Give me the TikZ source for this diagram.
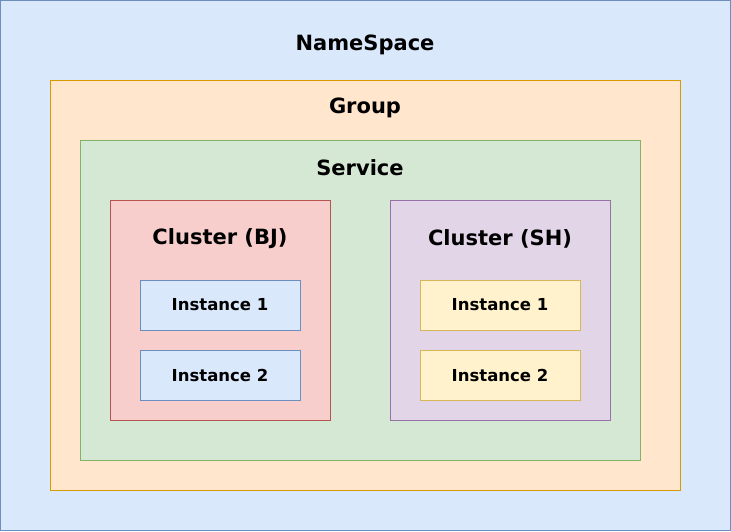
\documentclass[tikz,border=0pt]{standalone}
\usepackage{fontspec}
\setmainfont{DejaVu Sans}
\usetikzlibrary{positioning}
\definecolor{nsfill}{HTML}{DAE8FC}
\definecolor{nsline}{HTML}{6C8EBF}
\definecolor{grpfill}{HTML}{FFE6CC}
\definecolor{grpline}{HTML}{D79B00}
\definecolor{svcfill}{HTML}{D5E8D4}
\definecolor{svcline}{HTML}{82B366}
\definecolor{bjfill}{HTML}{F8CECC}
\definecolor{bjline}{HTML}{B85450}
\definecolor{shfill}{HTML}{E1D5E7}
\definecolor{shline}{HTML}{9673A6}
\definecolor{insfill}{HTML}{FFF2CC}
\definecolor{insline}{HTML}{D6B656}
\tikzset{
  box/.style={draw,line width=1pt,inner sep=0pt},
  title/.style={font=\fontsize{21}{25}\selectfont\bfseries},
  inst/.style={box,minimum width=160pt,minimum height=50pt,font=\fontsize{16.5}{19}\selectfont\bfseries}
}

\begin{document}
\begin{tikzpicture}[x=1pt,y=-1pt]
    \useasboundingbox (0,0) rectangle (731,531);

    % NameSpace
    \node[box,fill=nsfill,draw=nsline,minimum width=730pt,minimum height=530pt] (ns) at (365.5,265.5) {};
    \node[title] (nstitle) at (365,45) {NameSpace};

    % Group
    \node[box,fill=grpfill,draw=grpline,minimum width=630pt,minimum height=410pt] (grp) at (365,285) {};
    \node[title] (grptitle) at (365,108) {Group};

    % Service
    \node[box,fill=svcfill,draw=svcline,minimum width=560pt,minimum height=320pt] (svc) at (360,300) {};
    \node[title] (svctitle) at (360,168) {Service};

    % Cluster (BJ)
    \node[box,fill=bjfill,draw=bjline,minimum width=220pt,minimum height=220pt] (bj) at (220,310) {};
    \node[title] (bjtitle) at (220,239) {Cluster (BJ)};
    \node[inst,fill=nsfill,draw=nsline] (bjone) at (220,305) {Instance 1};
    \node[inst,fill=nsfill,draw=nsline] (bjtwo) at (220,375) {Instance 2};

    % Cluster (SH)
    \node[box,fill=shfill,draw=shline,minimum width=220pt,minimum height=220pt] (sh) at (500,310) {};
    \node[title] (shtitle) at (500,239) {Cluster (SH)};
    \node[inst,fill=insfill,draw=insline] (shone) at (500,305) {Instance 1};
    \node[inst,fill=insfill,draw=insline] (shtwo) at (500,375) {Instance 2};
\end{tikzpicture}
\end{document}
